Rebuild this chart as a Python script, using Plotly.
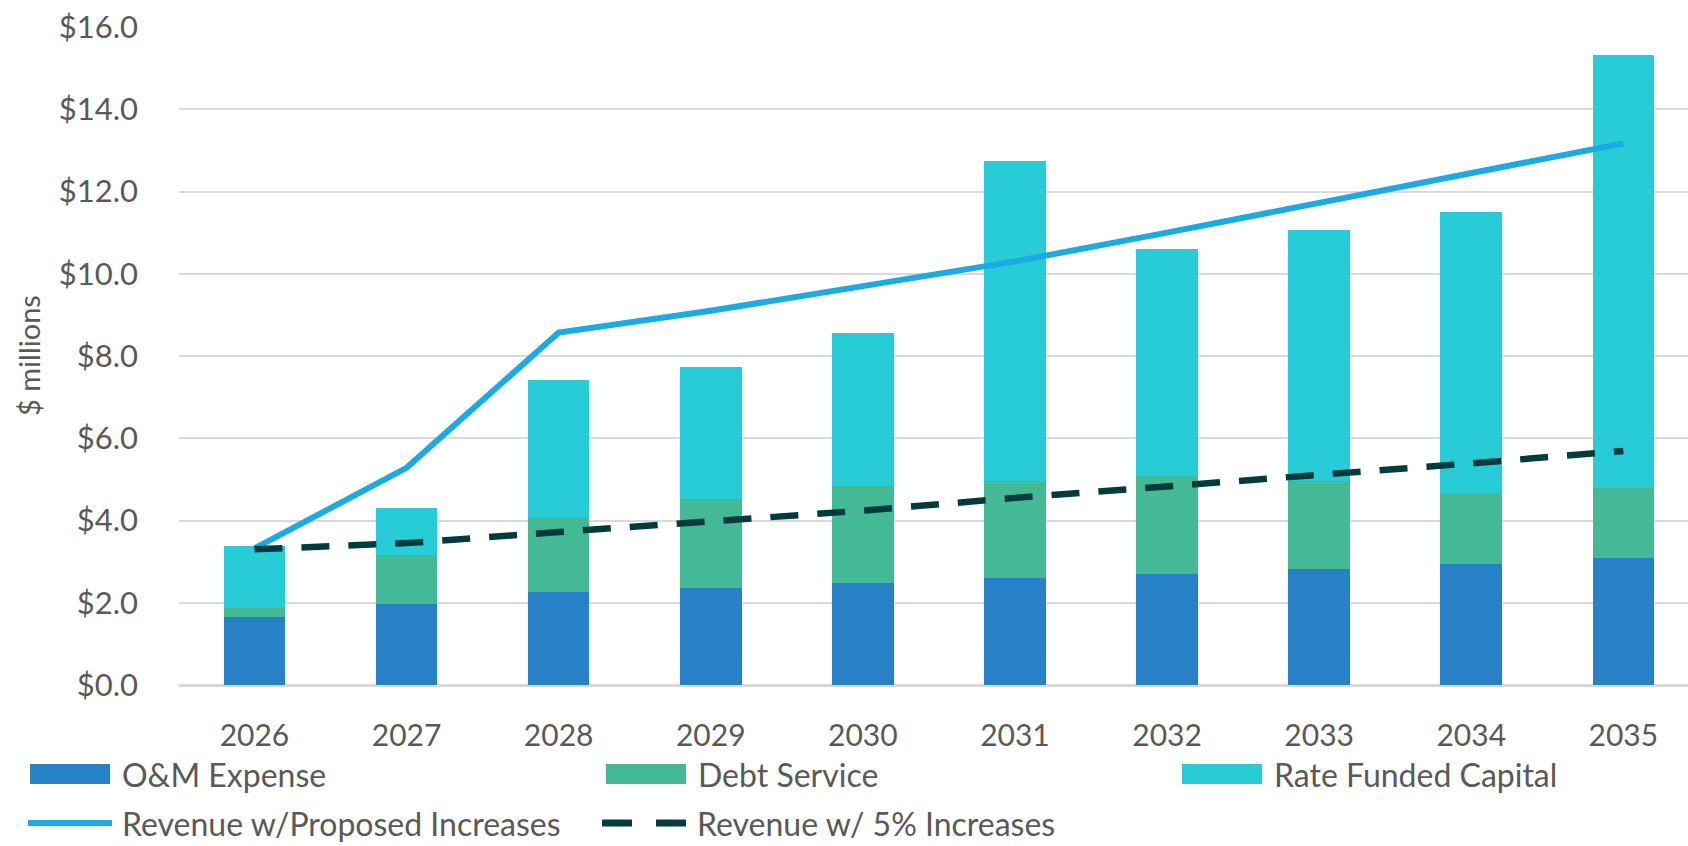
import plotly.graph_objects as go

# ---------------- data ----------------
years = ["2026", "2027", "2028", "2029", "2030", "2031", "2032", "2033", "2034", "2035"]
om_expense = [1.66, 1.96, 2.26, 2.37, 2.48, 2.59, 2.70, 2.82, 2.94, 3.08]
debt_service = [0.22, 1.20, 1.83, 2.15, 2.36, 2.37, 2.38, 2.14, 1.72, 1.72]
rate_funded_capital = [1.50, 1.15, 3.33, 3.21, 3.71, 7.77, 5.52, 6.10, 6.84, 10.51]
revenue_proposed = [3.32, 5.28, 8.57, 9.10, 9.70, 10.30, 11.00, 11.73, 12.44, 13.17]
revenue_5pct = [3.30, 3.45, 3.72, 3.99, 4.24, 4.55, 4.82, 5.09, 5.39, 5.69]
y_ticks = [0, 2, 4, 6, 8, 10, 12, 14, 16]
y_tick_labels = ["$0.0", "$2.0", "$4.0", "$6.0", "$8.0", "$10.0", "$12.0", "$14.0", "$16.0"]

# ---------------- style ----------------
FONT = "Lato"
TXT = "#595959"
C_OM = "#2681C6"
C_DEBT = "#43B995"
C_CAP = "#27CCD6"
C_PROP = "#1BAAE3"
C_FIVE = "#033C3E"
GRID = "#D9D9D9"

W, H = 1688, 846
L, R, T, B = 179, 0, 27, 161
PW, PH = W - L - R, H - T - B


def px(x):
    return (x - L) / PW


def py(y):
    return (H - B - y) / PH


fig = go.Figure()
fig.add_trace(go.Bar(x=years, y=om_expense, name="O&M Expense", marker_color=C_OM,
                     marker_line_width=0))
fig.add_trace(go.Bar(x=years, y=debt_service, name="Debt Service", marker_color=C_DEBT,
                     marker_line_width=0))
fig.add_trace(go.Bar(x=years, y=rate_funded_capital, name="Rate Funded Capital",
                     marker_color=C_CAP, marker_line_width=0))
fig.add_trace(go.Scatter(x=years, y=revenue_proposed, name="Revenue w/Proposed Increases",
                         mode="lines", line=dict(color=C_PROP, width=6)))
fig.add_trace(go.Scatter(x=years, y=revenue_5pct, name="Revenue w/ 5% Increases",
                         mode="lines", line=dict(color=C_FIVE, width=6.5, dash="28px,19px")))

# ---------------- custom legend ----------------
shapes = []
annotations = []
legend_rows = [
    [("rect", C_OM, "O&M Expense", 30), ("rect", C_DEBT, "Debt Service", 606),
     ("rect", C_CAP, "Rate Funded Capital", 1182)],
    [("line", C_PROP, "Revenue w/Proposed Increases", 28),
     ("dash", C_FIVE, "Revenue w/ 5% Increases", 602)],
]
row_y = [774, 823]
for row, yc in zip(legend_rows, row_y):
    for kind, col, label, x0 in row:
        if kind == "rect":
            shapes.append(dict(type="rect", xref="paper", yref="paper",
                               x0=px(x0), x1=px(x0 + 80), y0=py(yc - 10), y1=py(yc + 10),
                               fillcolor=col, line=dict(width=0), layer="above"))
            tx = x0 + 90
        elif kind == "line":
            shapes.append(dict(type="line", xref="paper", yref="paper",
                               x0=px(x0), x1=px(x0 + 84), y0=py(yc), y1=py(yc),
                               line=dict(color=col, width=6)))
            tx = x0 + 92
        else:
            shapes.append(dict(type="line", xref="paper", yref="paper",
                               x0=px(x0), x1=px(x0 + 84), y0=py(yc), y1=py(yc),
                               line=dict(color=col, width=7, dash="30px,24px")))
            tx = x0 + 93
        annotations.append(dict(text=label, xref="paper", yref="paper", x=px(tx), y=py(yc),
                                xanchor="left", yanchor="middle", showarrow=False,
                                font=dict(family=FONT, size=32, color=TXT)))

# y axis title
annotations.append(dict(text="$ millions", xref="paper", yref="paper", x=px(28), y=0.5,
                        xanchor="center", yanchor="middle", textangle=-90, showarrow=False,
                        font=dict(family=FONT, size=29, color=TXT)))

fig.update_layout(
    width=W, height=H,
    margin=dict(l=L, r=R, t=T, b=B, pad=0),
    barmode="stack",
    bargap=0.595,
    showlegend=False,
    plot_bgcolor="white",
    paper_bgcolor="white",
    font=dict(family=FONT, color=TXT),
    shapes=shapes,
    annotations=annotations,
    xaxis=dict(type="category", range=[-0.496, 9.425], showgrid=False, showline=False,
               zeroline=False, ticks="", tickfont=dict(family=FONT, size=30, color=TXT),
               ticklabelstandoff=30),
    yaxis=dict(range=[0, 16], tickmode="array", tickvals=y_ticks, ticktext=y_tick_labels,
               showgrid=True, gridcolor=GRID, gridwidth=2, zeroline=True,
               zerolinecolor=GRID, zerolinewidth=3, showline=False, ticks="",
               tickfont=dict(family=FONT, size=31, color=TXT), ticklabelstandoff=40),
)

fig.write_html("out.html", config={"displayModeBar": False},
               post_script="document.body.style.margin='0';document.body.style.overflow='hidden';")
